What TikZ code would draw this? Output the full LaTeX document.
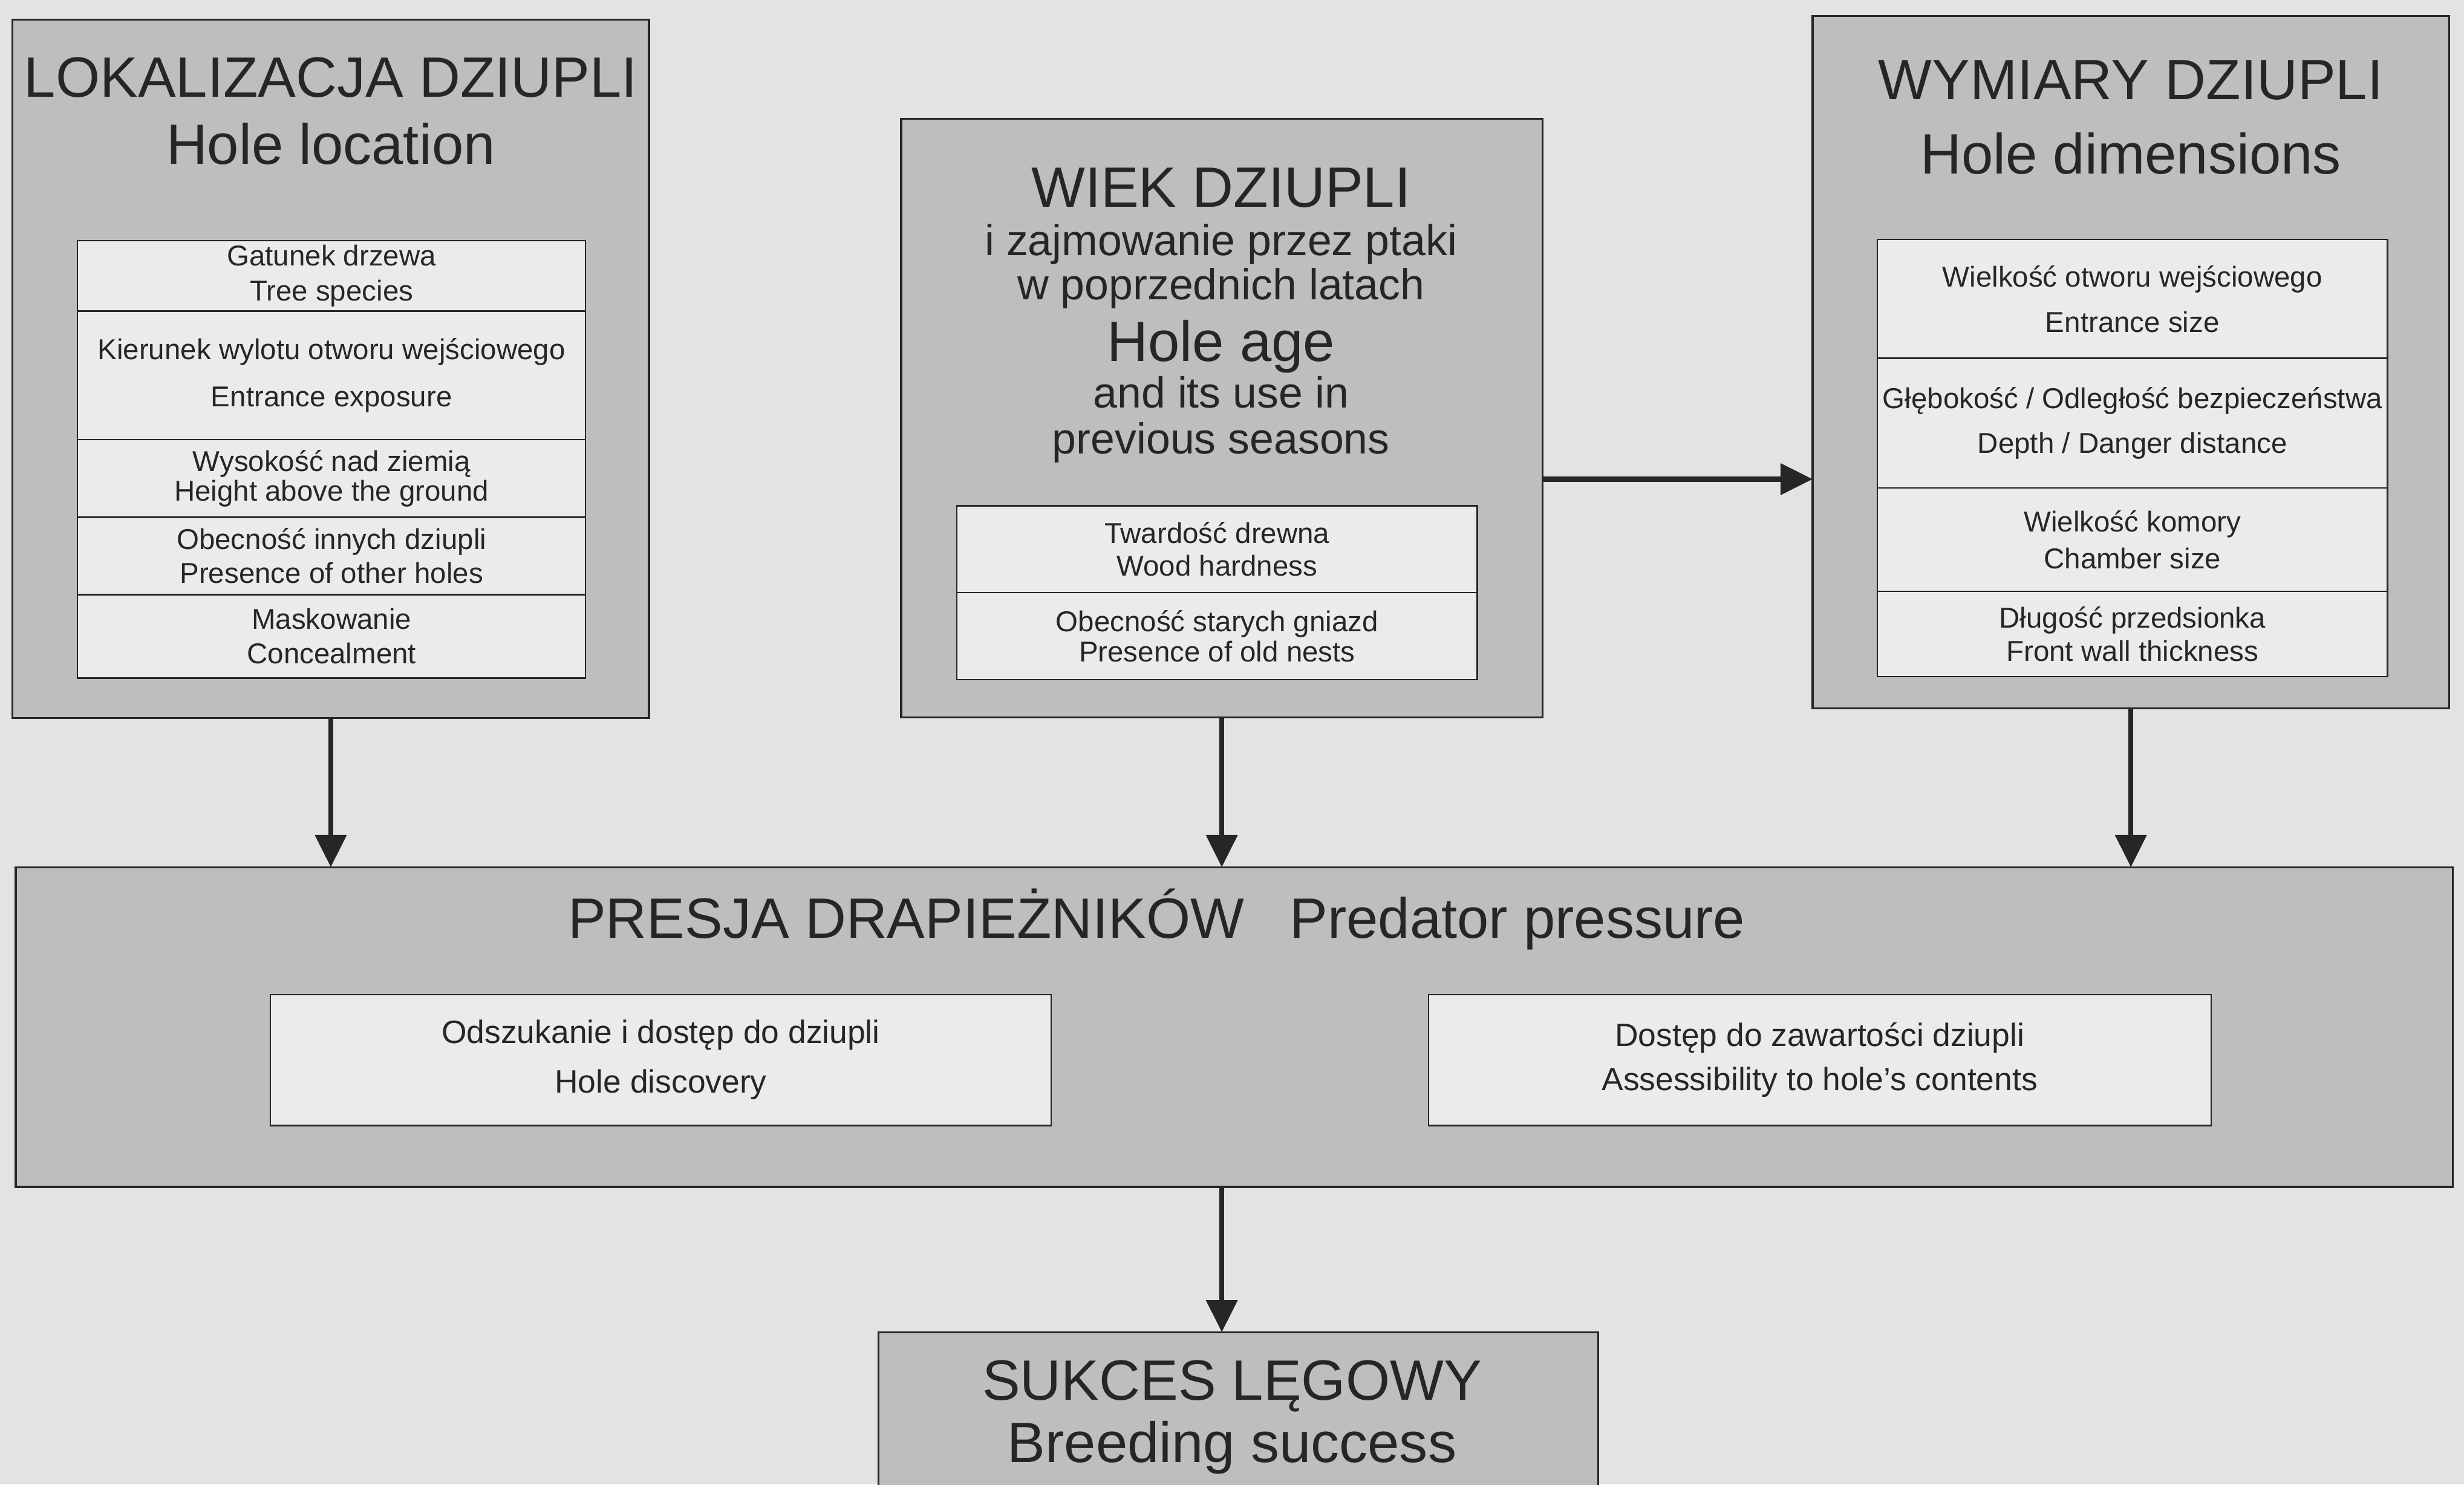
\documentclass[tikz,border=0pt]{standalone}
\usepackage{fontspec}
\setmainfont{Liberation Sans}
\usetikzlibrary{positioning,arrows.meta}
\definecolor{papier}{RGB}{226,228,227}
\definecolor{szary}{RGB}{189,190,190}
\definecolor{jasny}{RGB}{234,236,235}
\definecolor{tusz}{RGB}{38,38,38}
\tikzstyle{czynnik}=[draw=tusz, fill=szary, line width=0.7pt, inner sep=0pt, outer sep=0pt]
\tikzstyle{wiersz}=[draw=tusz, fill=jasny, line width=0.5pt, inner sep=0pt, outer sep=0pt, align=center, text=tusz, font=\fontsize{10.4}{12.5}\selectfont]
\tikzstyle{wierszL}=[wiersz, minimum width=64.66mm]
\tikzstyle{wierszM}=[wiersz, minimum width=66.2mm]
\tikzstyle{wierszP}=[wiersz, minimum width=64.9mm]
\tikzstyle{wierszD}=[wiersz, minimum height=16.68mm, font=\fontsize{11.7}{14}\selectfont]
\tikzstyle{tytul}=[anchor=base, inner sep=0pt, text=tusz, font=\fontsize{20.6}{24}\selectfont]
\tikzstyle{podtytul}=[anchor=base, inner sep=0pt, text=tusz, font=\fontsize{15.7}{18}\selectfont]
\tikzstyle{strzalka}=[draw=tusz, line width=0.65mm, -{Triangle[length=4.1mm,width=3.9mm]}]

\begin{document}
\begin{tikzpicture}[x=0.2mm, y=-0.2mm]
\useasboundingbox[fill=papier] (0,0) rectangle (1568,945);

% trzy czynniki u gory
\node[czynnik, minimum width=81mm, minimum height=88.9mm] (loc) at (210.5,234.75) {};
\node[czynnik, minimum width=81.6mm, minimum height=76.2mm] (age) at (777.5,266) {};
\node[czynnik, minimum width=81mm, minimum height=88.1mm] (dim) at (1356,230.6) {};
% presja i sukces
\node[czynnik, minimum width=310.2mm, minimum height=40.7mm] (pred) at (785.5,653.75) {};
\node[czynnik, minimum width=91.6mm, minimum height=21mm, anchor=north] (succ) at (788,848) {};

% lokalizacja
\node[tytul] (loct1) at (210.5,61.9) {LOKALIZACJA DZIUPLI};
\node[tytul] (loct2) at (210.5,104.6) {Hole location};
\node[wierszL, minimum height=8.96mm, anchor=north] (loc1) at (211,153.2) {Gatunek drzewa\\Tree species};
\node[wierszL, minimum height=16.38mm, below=0pt of loc1] (loc2) {Kierunek wylotu otworu wejściowego\\[4.5pt]Entrance exposure};
\node[wierszL, minimum height=9.88mm, below=0pt of loc2] (loc3) {Wysokość nad ziemią\\[-1.7pt]Height above the ground};
\node[wierszL, minimum height=9.84mm, below=0pt of loc3] (loc4) {Obecność innych dziupli\\[-0.3pt]Presence of other holes};
\node[wierszL, minimum height=10.62mm, below=0pt of loc4] (loc5) {Maskowanie\\Concealment};

% wiek
\node[tytul] (aget1) at (777,131.9) {WIEK DZIUPLI};
\node[podtytul] (aget2) at (777,162.5) {i zajmowanie przez ptaki};
\node[podtytul] (aget3) at (777,190.8) {w poprzednich latach};
\node[tytul] (aget4) at (777,230) {Hole age};
\node[podtytul] (aget5) at (777,259.5) {and its use in};
\node[podtytul] (aget6) at (777,289) {previous seasons};
\node[wierszM, minimum height=11.06mm, anchor=north] (age1) at (774.5,322) {Twardość drewna\\[-0.6pt]Wood hardness};
\node[wierszM, minimum height=11.06mm, below=0pt of age1] (age2) {Obecność starych gniazd\\[-1.4pt]Presence of old nests};

% wymiary
\node[tytul] (dimt1) at (1356,63.3) {WYMIARY DZIUPLI};
\node[tytul] (dimt2) at (1356,110.5) {Hole dimensions};
\node[wierszP, minimum height=15.1mm, anchor=north] (dim1) at (1357,152.5) {Wielkość otworu wejściowego\\[3.9pt]Entrance size};
\node[wierszP, minimum height=16.54mm, below=0pt of dim1] (dim2) {Głębokość / Odległość bezpieczeństwa\\[3.6pt]Depth / Danger distance};
\node[wierszP, minimum height=13.14mm, below=0pt of dim2] (dim3) {Wielkość komory\\[1pt]Chamber size};
\node[wierszP, minimum height=10.84mm, below=0pt of dim3] (dim4) {Długość przedsionka\\[-0.4pt]Front wall thickness};

% presja drapieznikow
\node[tytul] (predt) at (736,597) {PRESJA DRAPIEŻNIKÓW\hspace{16.4pt}Predator pressure};
\node[wierszD, minimum width=99.4mm] (odsz) at (420.5,674.7) {Odszukanie i dostęp do dziupli\\[3.9pt]Hole discovery};
\node[wierszD, minimum width=99.6mm] (dost) at (1158,674.7) {Dostęp do zawartości dziupli\\[1.9pt]Assessibility to hole's contents};

% sukces
\node[tytul] (succt1) at (784,891) {SUKCES LĘGOWY};
\node[tytul] (succt2) at (784,931) {Breeding success};

% strzalki
\coordinate (wyjscie) at ([yshift=-7.8mm]age.east);
\draw[strzalka] (wyjscie) -- (wyjscie -| dim.west);
\draw[strzalka] (loc.south) -- (loc.south |- pred.north);
\draw[strzalka] (age.south) -- (age.south |- pred.north);
\draw[strzalka] (dim.south) -- (dim.south |- pred.north);
\draw[strzalka] (age.south |- pred.south) -- (age.south |- succ.north);
\end{tikzpicture}
\end{document}
